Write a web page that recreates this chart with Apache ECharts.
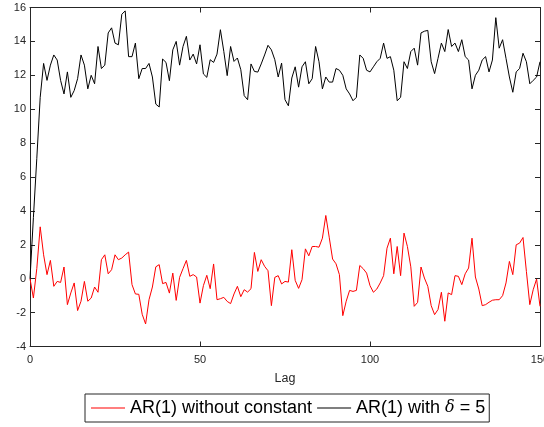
<!DOCTYPE html>
<html><head><meta charset="utf-8">
<script src="https://cdn.jsdelivr.net/npm/echarts@6/dist/echarts.min.js"></script>
<style>html,body{margin:0;padding:0;background:#fff}#c{width:544px;height:427px}</style>
</head><body><div id="c"></div>
<script>
const xTicks = [0, 50, 100, 150];
const yTicks = [-4, -2, 0, 2, 4, 6, 8, 10, 12, 14, 16];
const seriesNames = ['AR(1) without constant', 'AR(1) with δ = 5'];
const redValues = [
  0, -1.14, 0.6, 3.06, 1.41, 0.24, 1.08, -0.45, -0.16, -0.22,
  0.69, -1.53, -0.84, -0.25, -1.88, -1.33, -0.16, -1.33, -1.14, -0.49,
  -0.8, 1.12, 1.41, 0.29, 0.53, 1.41, 1.12, 1.22, 1.41, 1.57,
  -0.35, -0.9, -0.92, -2.1, -2.67, -1.24, -0.49, 0.7, 0.83, -0.29,
  -0.22, -0.85, 0.33, -1.28, 0.08, 0.59, 1.08, 0.14, 0.24, 0.1,
  -1.44, -0.41, 0.2, -0.59, 0.87, -1.24, -1.18, -1.1, -1.34, -1.47,
  -0.9, -0.45, -1.06, -0.65, -0.79, -0.59, 1.55, 0.43, 1.12, 0.73,
  0.47, -1.59, 0.08, 0.18, -0.31, -0.16, -0.2, 1.71, -0.1, -0.57,
  -0.06, 1.76, 1.35, 1.9, 1.9, 1.86, 2.39, 3.73, 2.45, 1.16,
  0.88, 0.24, -2.18, -1.33, -0.69, -0.75, -0.69, 0.78, 0.59, 0.33,
  -0.41, -0.8, -0.61, -0.25, 0.18, 1.8, 2.39, 0.29, 1.9, 0.18,
  2.69, 1.9, 0.7, -1.63, -1.4, 0.69, 0.04, -0.45, -1.59, -2.12,
  -1.82, -0.8, -2.51, -0.84, -0.94, 0.18, 0.14, -0.35, 0.29, 0.63,
  2.39, 0.1, -0.61, -1.59, -1.53, -1.39, -1.27, -1.24, -1.24, -1.0,
  -0.25, 1.02, 0.24, 2.0, 2.1, 2.43, 0.43, -1.53, -0.65, -0.02,
  -1.63
];
const blackValues = [
  0, 3.6, 7.1, 10.7, 12.7, 11.7, 12.6, 13.2, 12.9, 11.7,
  10.9, 12.2, 10.7, 11.1, 11.8, 13.2, 12.6, 11.2, 12.0, 11.5,
  13.7, 12.4, 12.6, 14.5, 14.8, 13.9, 13.8, 15.6, 15.8, 13.1,
  13.1, 13.9, 11.8, 12.4, 12.4, 12.7, 11.9, 10.3, 10.13, 12.96,
  12.76, 11.68, 13.5, 14.0, 12.6, 13.7, 14.3, 12.9, 13.25, 12.67,
  13.8, 12.08, 11.88, 12.92, 12.76, 13.25, 14.69, 13.41, 11.98, 13.7,
  12.82, 13.02, 12.33, 10.8, 10.56, 12.67, 12.23, 12.19, 12.67, 13.2,
  13.77, 13.5, 12.92, 11.9, 12.72, 10.56, 10.2, 11.84, 12.5, 11.3,
  12.5, 12.8, 11.5, 11.8, 13.7, 12.8, 11.2, 11.9, 11.6, 11.6,
  12.4, 12.3, 12.0, 11.2, 10.9, 10.5, 10.7, 13.2, 13.0, 12.3,
  12.2, 12.5, 12.8, 13.0, 13.9, 13.0, 13.1, 12.3, 10.5, 10.7,
  12.8, 12.4, 13.4, 13.6, 12.6, 14.5, 14.6, 14.65, 12.8, 12.1,
  13.0, 13.9, 13.4, 14.7, 13.7, 13.9, 13.4, 14.1, 13.1, 12.9,
  11.2, 12.0, 12.3, 12.9, 13.1, 12.2, 12.9, 15.4, 13.6, 14.1,
  13.0, 11.9, 11.0, 12.2, 12.4, 13.3, 12.8, 11.5, 11.7, 11.9,
  12.8
];

const FONT = "'Liberation Sans', Arial, Helvetica, sans-serif";
const AX = '#262626';
const toPairs = arr => arr.map((v, i) => [i, v]);

const chart = echarts.init(document.getElementById('c'), null, {renderer: 'canvas'});
const xCommon = {min: xTicks[0], max: xTicks[xTicks.length - 1], interval: 50};
const yCommon = {min: yTicks[0], max: yTicks[yTicks.length - 1], interval: 2};
const lineIcon = 'path://M0,0 H34 V1 H0 Z';
chart.setOption({
  animation: false,
  backgroundColor: '#fff',
  grid: {left: 30, right: 4, top: 7.5, bottom: 80.5, containLabel: false, outerBoundsMode: 'none'},
  xAxis: [
    Object.assign({
      type: 'value', position: 'bottom',
      name: 'Lag', nameLocation: 'middle', nameGap: 26,
      nameTextStyle: {color: AX, fontFamily: FONT, fontSize: 12.5},
      axisLine: {show: true, onZero: false, lineStyle: {color: AX, width: 1}},
      axisTick: {show: true, inside: true, length: 5, lineStyle: {color: AX}},
      axisLabel: {color: AX, fontFamily: FONT, fontSize: 11, margin: 8, showMaxLabel: true,
                  alignMaxLabel: 'center', alignMinLabel: 'center'},
      splitLine: {show: false}
    }, xCommon),
    Object.assign({
      type: 'value', position: 'top',
      axisLine: {show: true, onZero: false, lineStyle: {color: AX, width: 1}},
      axisTick: {show: true, inside: true, length: 5, lineStyle: {color: AX}},
      axisLabel: {show: false}, splitLine: {show: false}
    }, xCommon)
  ],
  yAxis: [
    Object.assign({
      type: 'value', position: 'left',
      axisLine: {show: true, onZero: false, lineStyle: {color: AX, width: 1}},
      axisTick: {show: true, inside: true, length: 5, lineStyle: {color: AX}},
      axisLabel: {color: AX, fontFamily: FONT, fontSize: 11, margin: 4},
      splitLine: {show: false}
    }, yCommon),
    Object.assign({
      type: 'value', position: 'right',
      axisLine: {show: true, onZero: false, lineStyle: {color: AX, width: 1}},
      axisTick: {show: true, inside: true, length: 5, lineStyle: {color: AX}},
      axisLabel: {show: false}, splitLine: {show: false}
    }, yCommon)
  ],
  legend: {
    data: seriesNames.map(n => ({name: n, icon: lineIcon})),
    left: 85, bottom: 5,
    orient: 'horizontal',
    itemWidth: 34, itemHeight: 18, itemGap: 5,
    padding: [5, 4, 5, 6],
    borderColor: AX, borderWidth: 1,
    backgroundColor: '#fff',
    formatter: name => name.replace('δ', '{i|δ}'),
    textStyle: {
      color: '#000', fontFamily: FONT, fontSize: 18,
      rich: {i: {fontStyle: 'italic', fontFamily: "'DejaVu Serif', 'Liberation Serif', serif", fontSize: 16, color: '#000'}}
    }
  },
  series: [
    {
      name: seriesNames[0], type: 'line', data: toPairs(redValues),
      xAxisIndex: 0, yAxisIndex: 0,
      symbol: 'none', lineStyle: {color: '#ff0000', width: 1}, itemStyle: {color: '#ff0000'}
    },
    {
      name: seriesNames[1], type: 'line', data: toPairs(blackValues),
      xAxisIndex: 0, yAxisIndex: 0,
      symbol: 'none', lineStyle: {color: '#000000', width: 1}, itemStyle: {color: '#000000'}
    }
  ]
});
</script></body></html>
